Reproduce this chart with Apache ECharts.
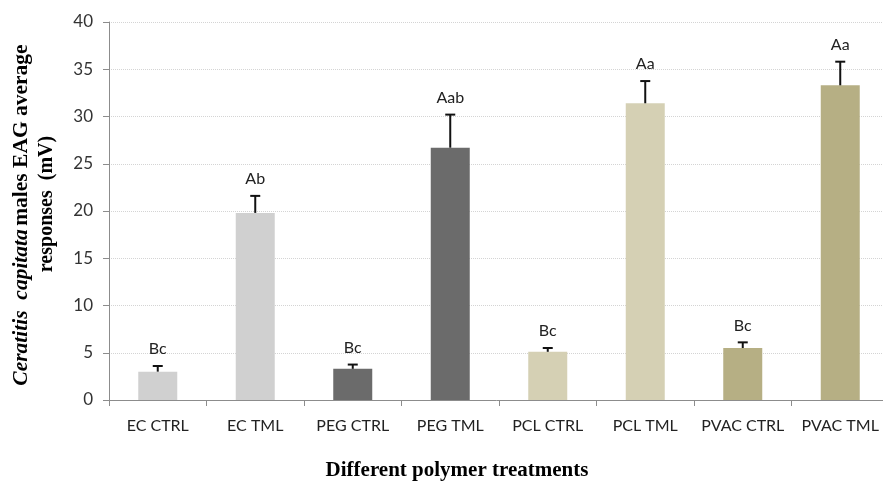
<!DOCTYPE html>
<html>
<head>
<meta charset="utf-8">
<script src="https://cdn.jsdelivr.net/npm/echarts@6/dist/echarts.min.js"></script>
<style>html,body{margin:0;padding:0;background:#fff}#c{width:883px;height:483px}</style>
</head>
<body>
<div id="c"></div>
<script>
const categories = ['EC CTRL', 'EC TML', 'PEG CTRL', 'PEG TML', 'PCL CTRL', 'PCL TML', 'PVAC CTRL', 'PVAC TML'];
const means = [3.0, 19.8, 3.3, 26.7, 5.1, 31.4, 5.5, 33.3];
const errors = [0.6, 1.8, 0.45, 3.5, 0.4, 2.35, 0.6, 2.5];
const letters = ['Bc', 'Ab', 'Bc', 'Aab', 'Bc', 'Aa', 'Bc', 'Aa'];
const barColors = ['#d0d0d0', '#d0d0d0', '#6b6b6b', '#6b6b6b', '#d5d0b4', '#d5d0b4', '#b6af84', '#b6af84'];
const yMin = 0, yMax = 40, yStep = 5;

const chart = echarts.init(document.getElementById('c'), null, {renderer: 'canvas'});
const labelFont = "Lato, 'Liberation Sans', sans-serif";
const serif = "'Liberation Serif', 'Times New Roman', serif";

const option = {
  animation: false,
  backgroundColor: '#fff',
  grid: {left: 109, top: 22, height: 378, width: 780, outerBoundsMode: 'none', containLabel: false},
  xAxis: {
    type: 'category',
    data: categories,
    boundaryGap: true,
    axisLine: {lineStyle: {color: '#8c8c8c', width: 1}},
    axisTick: {show: true, alignWithLabel: false, length: 6, lineStyle: {color: '#8c8c8c'}},
    axisLabel: {fontFamily: labelFont, fontSize: 16, color: '#222', margin: 18, interval: 0}
  },
  yAxis: {
    type: 'value',
    min: yMin, max: yMax, interval: yStep,
    axisLine: {show: true, lineStyle: {color: '#8c8c8c', width: 1}},
    axisTick: {show: true, length: 6, lineStyle: {color: '#8c8c8c'}},
    axisLabel: {fontFamily: labelFont, fontSize: 17, color: '#333', margin: 16},
    splitLine: {show: true, lineStyle: {color: '#d4d4d4', type: [1, 1], width: 1}}
  },
  graphic: [
    {
      type: 'text',
      x: 21, y: 215, rotation: Math.PI / 2,
      style: {
        text: '{i|Ceratitis  capitata} {n|males EAG average}',
        align: 'center', verticalAlign: 'middle',
        fill: '#000',
        rich: {
          i: {fontFamily: serif, fontSize: 21.5, fontWeight: 'bold', fontStyle: 'italic', fill: '#000'},
          n: {fontFamily: serif, fontSize: 21.5, fontWeight: 'bold', fill: '#000'}
        }
      }
    },
    {
      type: 'text',
      x: 47, y: 204, rotation: Math.PI / 2,
      style: {
        text: 'responses  (mV)',
        align: 'center', verticalAlign: 'middle',
        fill: '#000',
        font: "bold 20px 'Liberation Serif', serif"
      }
    },
    {
      type: 'text',
      x: 457, y: 471,
      style: {
        text: 'Different polymer treatments',
        align: 'center', verticalAlign: 'middle',
        fill: '#000',
        font: "bold 21px 'Liberation Serif', serif"
      }
    }
  ],
  series: [
    {
      type: 'bar',
      barWidth: 39,
      data: means.map((v, i) => ({value: v, itemStyle: {color: barColors[i]}})),
      z: 2
    },
    {
      type: 'custom',
      z: 5,
      data: means.map((v, i) => [i, v, v + errors[i]]),
      renderItem: function (params, api) {
        const i = api.value(0);
        const p0 = api.coord([i, api.value(1)]);
        const p1 = api.coord([i, api.value(2)]);
        const cap = 5;
        return {
          type: 'group',
          children: [
            {type: 'line', shape: {x1: p0[0], y1: p0[1], x2: p1[0], y2: p1[1]}, style: {stroke: '#111', lineWidth: 2}},
            {type: 'line', shape: {x1: p1[0] - cap, y1: p1[1], x2: p1[0] + cap, y2: p1[1]}, style: {stroke: '#111', lineWidth: 2}},
            {type: 'text', x: p1[0], y: p1[1] - 17, style: {text: letters[params.dataIndex], align: 'center', verticalAlign: 'middle', fill: '#222', font: "16px Lato, 'Liberation Sans', sans-serif"}}
          ]
        };
      }
    }
  ]
};
chart.setOption(option);
</script>
</body>
</html>
